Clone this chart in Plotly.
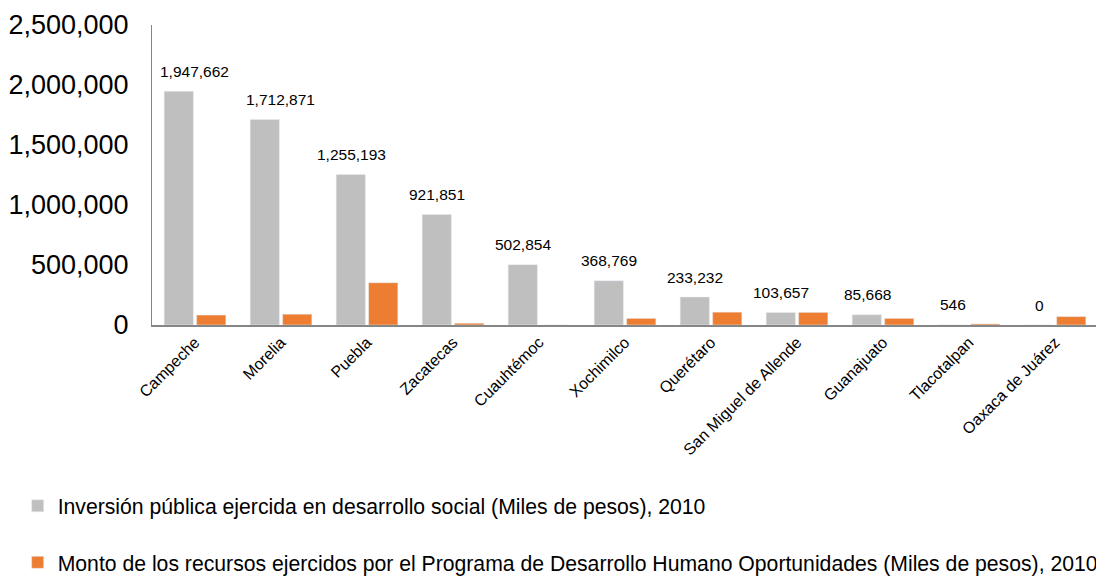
import plotly.graph_objects as go

ciudades = ["Campeche", "Morelia", "Puebla", "Zacatecas", "Cuauhtémoc", "Xochimilco",
            "Querétaro", "San Miguel de Allende", "Guanajuato", "Tlacotalpan", "Oaxaca de Juárez"]
inversion = [1947662, 1712871, 1255193, 921851, 502854, 368769, 233232, 103657, 85668, 546, 0]
oportunidades = [83000, 90000, 352000, 15000, 0, 55000, 107000, 105000, 55000, 9000, 70000]

nombre_inv = "Inversión pública ejercida en desarrollo social (Miles de pesos), 2010"
nombre_opo = "Monto de los recursos ejercidos por el Programa de Desarrollo Humano Oportunidades (Miles de pesos), 2010"

fig = go.Figure()
fig.add_trace(go.Bar(x=ciudades, y=inversion, name=nombre_inv,
                     marker_color="#BFBFBF", legendgroup="a"))
fig.add_trace(go.Bar(x=ciudades, y=oportunidades, name=nombre_opo,
                     marker_color="#ED7D31", legendgroup="b"))

# etiquetas sobre las barras grises (las dos primeras van algo corridas a la derecha)
desplazar = {"Campeche": 15, "Morelia": 15}
for c, v in zip(ciudades, inversion):
    fig.add_annotation(x=c, y=v, text=f"{v:,}", showarrow=False,
                       xshift=-16 + desplazar.get(c, 0), yshift=20,
                       font=dict(size=15.5, color="#000000"))

# la página tiene 8px de margen en el body, por eso 1096x568
fig.update_layout(
    width=1096, height=568,
    margin=dict(l=144, r=6, t=17, b=251, autoexpand=False),
    paper_bgcolor="white", plot_bgcolor="white",
    font=dict(family="Liberation Sans, Arial, sans-serif", color="#000000"),
    barmode="group", bargap=0.245, bargroupgap=0.1,
    legend=dict(orientation="v", x=-0.142, xanchor="left", y=-0.535, yanchor="top",
                font=dict(size=21.2, color="#000000"), tracegroupgap=26,
                itemwidth=30),
    showlegend=True,
)
fig.update_yaxes(range=[0, 2500000], tickvals=[0, 500000, 1000000, 1500000, 2000000, 2500000],
                 tickformat=",", tickfont=dict(size=27), showgrid=False, ticklabelstandoff=17,
                 showline=True, linecolor="#868686", linewidth=1, ticks="", zeroline=False)
fig.update_xaxes(tickangle=-45, tickfont=dict(size=16), showline=True,
                 linecolor="#868686", linewidth=1.5, ticks="")

fig.write_html("out.html")
